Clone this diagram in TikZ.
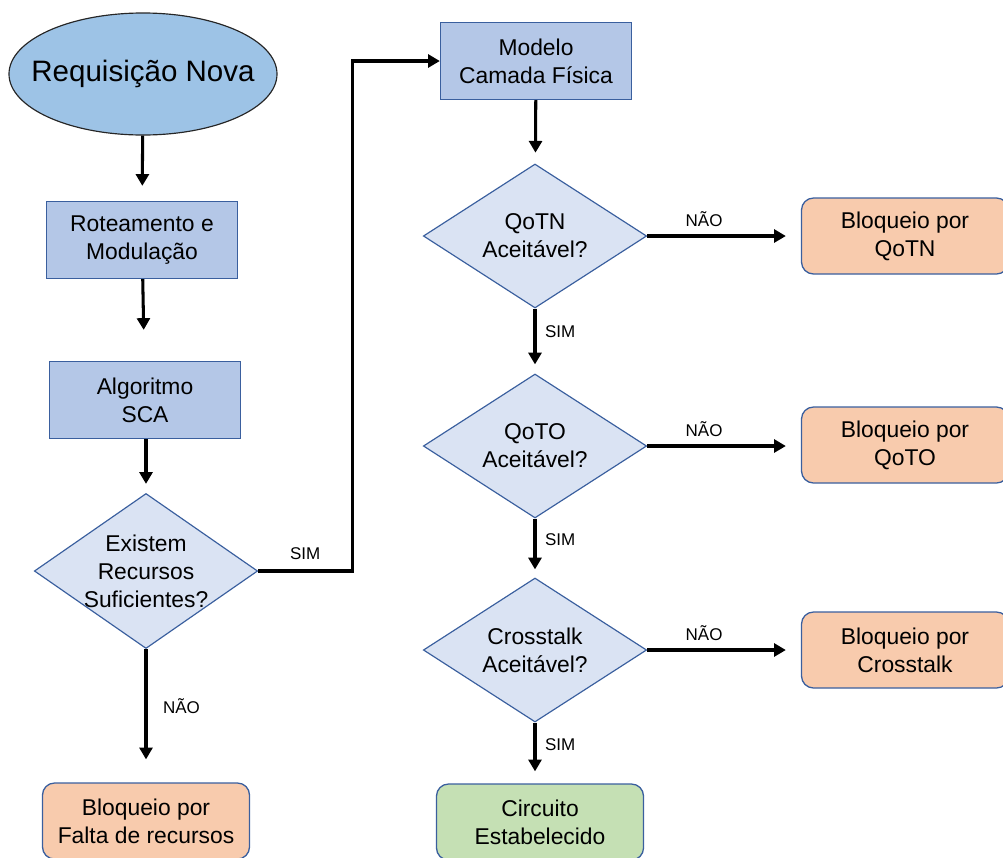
\documentclass[tikz,border=0pt]{standalone}
\usepackage{fontspec}
\setmainfont{Liberation Sans}
\usepackage{xcolor}
\usetikzlibrary{shapes.geometric,arrows.meta}

\definecolor{ovalfill}{HTML}{9DC3E6}
\definecolor{stepfill}{HTML}{B4C7E7}
\definecolor{askfill}{HTML}{DAE3F3}
\definecolor{blockfill}{HTML}{F8CBAD}
\definecolor{okfill}{HTML}{C5E0B4}
\definecolor{edgeblue}{HTML}{3A5F9E}

\begin{document}
\begin{tikzpicture}[x=0.03cm,y=-0.03cm,
    txt/.style={font=\fontsize{19.5}{23.9}\selectfont,align=center},
    lbl/.style={font=\fontsize{14.5}{16}\selectfont},
    stepbox/.style={txt,draw=edgeblue,line width=1.1pt,fill=stepfill,
          minimum width=5.73cm,minimum height=2.31cm,inner sep=2pt},
    ask/.style={txt,diamond,draw=edgeblue,line width=1pt,fill=askfill,
          minimum width=6.7cm,minimum height=4.32cm,inner sep=-9pt},
    endbox/.style={txt,draw=edgeblue,line width=1.1pt,rounded corners=0.36cm,
          minimum width=6.21cm,minimum height=2.28cm,inner sep=2pt},
    flow/.style={line width=2.6pt,-{Triangle[length=10pt,width=11pt]}}]
    \useasboundingbox (0,0) rectangle (1003,857);

    % left column
    \node[ellipse,draw=black!85,line width=1pt,fill=ovalfill,
          minimum width=8.04cm,minimum height=3.66cm,inner sep=-16pt,
          font=\fontsize{25.2}{30}\selectfont] (req) at (143,74) {Requisição Nova};
    \node[stepbox] (rot) at (142,240) {Roteamento e\\Modulação};
    \node[stepbox] (sca) at (145,400) {Algoritmo\\SCA};
    \node[ask] (rec) at (146,571) {Existem\\Recursos\\Suficientes?};
    \node[endbox,fill=blockfill] (falta) at (146,821) {Bloqueio por\\Falta de recursos};

    % right column
    \node[stepbox] (fis) at (536,61) {Modelo\\Camada Física};
    \node[ask] (qotn) at (535,236) {QoTN\\Aceitável?};
    \node[ask] (qoto) at (535,446) {QoTO\\Aceitável?};
    \node[ask] (xt) at (535,650) {Crosstalk\\Aceitável?};
    \node[endbox,fill=okfill] (ok) at (540,822) {Circuito\\Estabelecido};

    % blocking boxes
    \node[endbox,fill=blockfill] (bqotn) at (905,236) {Bloqueio por\\QoTN};
    \node[endbox,fill=blockfill] (bqoto) at (905,445) {Bloqueio por\\QoTO};
    \node[endbox,fill=blockfill] (bxt) at (905,650) {Bloqueio por\\Crosstalk};

    % connectors
    \draw[flow,shorten >=0.45cm] (req) -- (rot);
    \draw[flow,shorten >=0.93cm] (rot) -- (sca);
    \draw[flow,shorten >=0.27cm] (sca.south -| rec.north) -- (rec);
    \draw[flow,shorten >=0.69cm] (rec) -- node[lbl,right=10pt,pos=0.43]{NÃO} (falta);
    \draw[flow] (rec.east) -- node[lbl,above=5pt]{SIM} ++(94,0) |- (fis.west);
    \draw[flow,shorten >=0.33cm] (fis) -- (qotn);
    \draw[flow,shorten >=0.27cm] (qotn) -- node[lbl,right=4pt,pos=0.36]{SIM} (qoto);
    \draw[flow,shorten >=0.24cm] (qoto) -- node[lbl,right=4pt,pos=0.36]{SIM} (xt);
    \draw[flow,shorten >=0.36cm] (xt.south) -- node[lbl,right=4pt,pos=0.36]{SIM} (xt.south |- ok.north);
    \draw[flow,shorten >=0.45cm] (qotn) -- node[lbl,above=3pt,pos=0.37]{NÃO} (bqotn);
    \draw[flow,shorten >=0.45cm] (qoto.east) -- node[lbl,above=3pt,pos=0.37]{NÃO} (qoto.east -| bqoto.west);
    \draw[flow,shorten >=0.45cm] (xt) -- node[lbl,above=3pt,pos=0.37]{NÃO} (bxt);
\end{tikzpicture}
\end{document}
